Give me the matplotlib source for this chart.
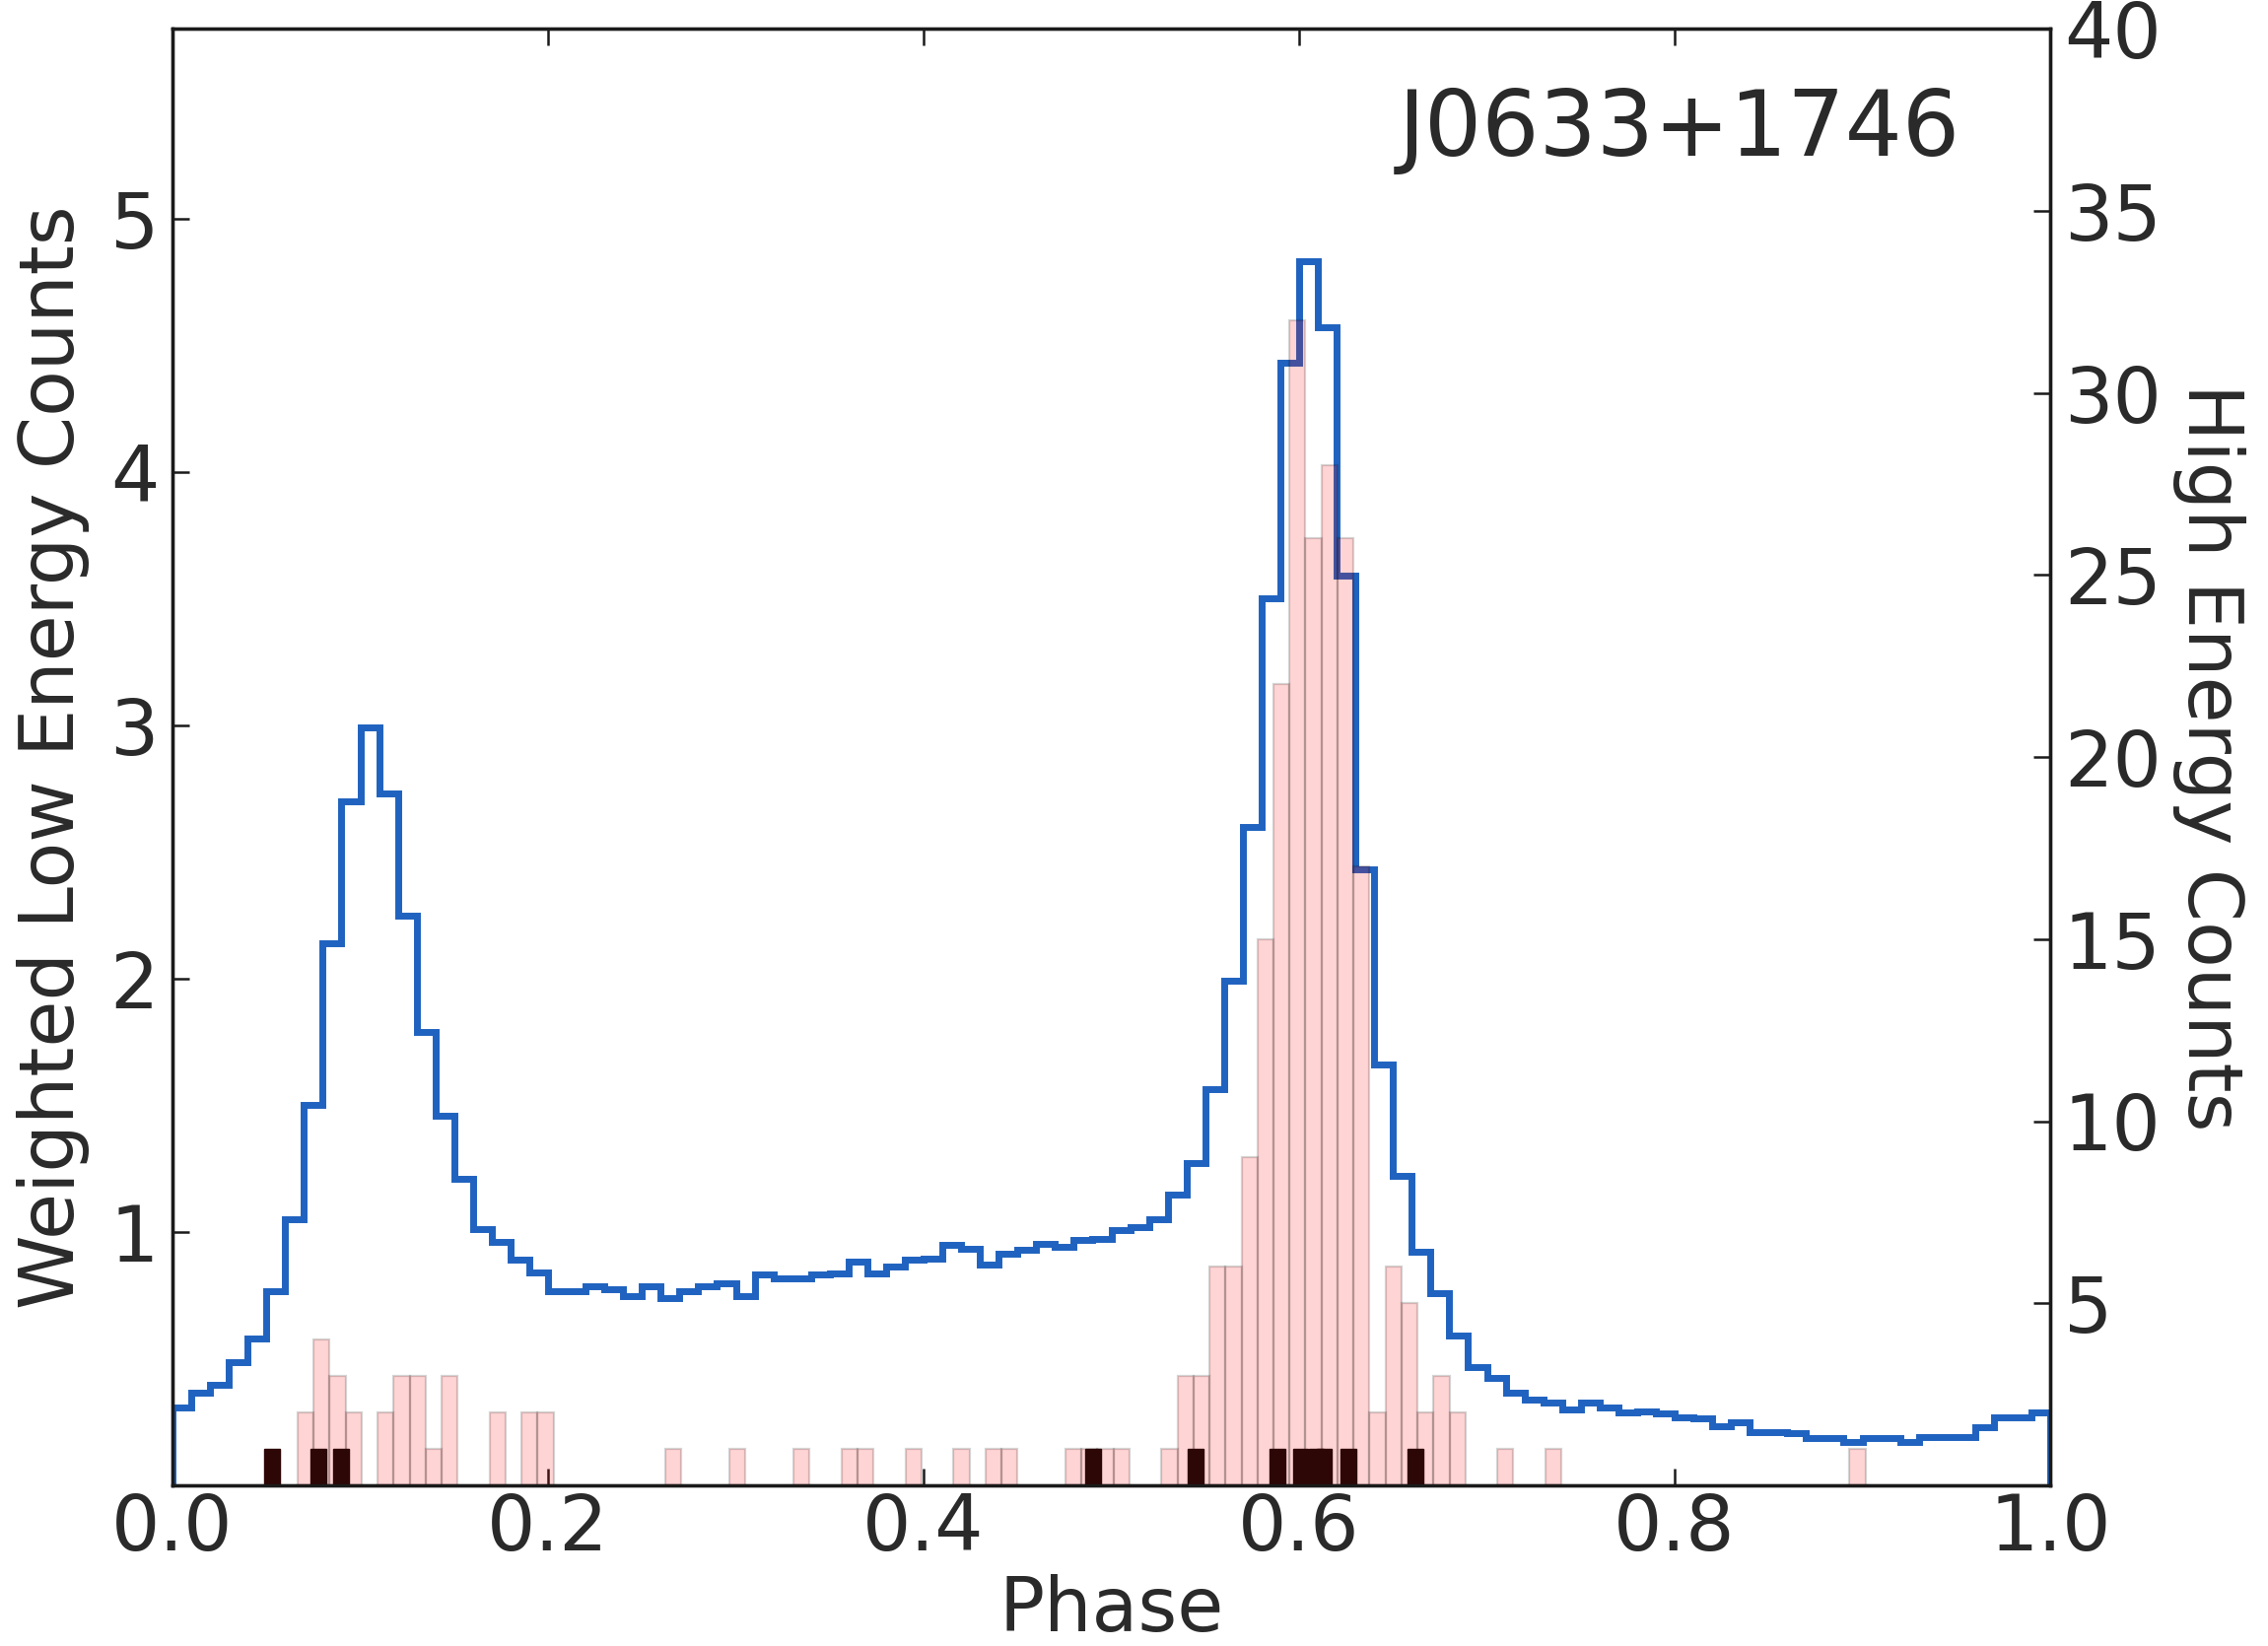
import numpy as np
import matplotlib
matplotlib.use("Agg")
import matplotlib.pyplot as plt

# Weighted low energy light curve, 100 phase bins of 0.01
low_counts = [0.306, 0.365, 0.397, 0.488, 0.578, 0.766, 1.052, 1.50, 2.14, 2.70,
              2.99, 2.73, 2.25, 1.79, 1.46, 1.21, 1.01, 0.96, 0.89, 0.84,
              0.767, 0.767, 0.786, 0.775, 0.747, 0.786, 0.741, 0.767, 0.786, 0.799,
              0.747, 0.831, 0.818, 0.818, 0.831, 0.838, 0.883, 0.838, 0.864, 0.890,
              0.896, 0.948, 0.935, 0.870, 0.916, 0.930, 0.955, 0.942, 0.968, 0.974,
              1.007, 1.019, 1.052, 1.149, 1.272, 1.564, 1.99, 2.60, 3.50, 4.43,
              4.83, 4.57, 3.59, 2.43, 1.66, 1.22, 0.922, 0.76, 0.591, 0.468,
              0.423, 0.365, 0.339, 0.326, 0.300, 0.326, 0.306, 0.287, 0.290, 0.285,
              0.267, 0.265, 0.235, 0.248, 0.209, 0.210, 0.205, 0.186, 0.186, 0.170,
              0.186, 0.185, 0.173, 0.190, 0.190, 0.190, 0.228, 0.267, 0.267, 0.289]

# High energy counts: non-empty bins of the finer histogram
hi_bin = [7, 8, 9, 10, 12, 13, 14, 15, 16, 19, 21, 22,
          30, 34, 38, 41, 42, 45, 48, 50, 51, 55, 56, 57, 58,
          61, 62, 63, 64, 65, 66, 67, 68, 69, 70, 71, 72, 73,
          74, 75, 76, 77, 78, 79, 82, 85, 104]
hi_count = [2, 4, 3, 2, 2, 3, 3, 1, 3, 2, 2, 2,
            1, 1, 1, 1, 1, 1, 1, 1, 1, 1, 1, 1, 1,
            1, 3, 3, 6, 6, 9, 15, 22, 32, 26, 28, 26, 17,
            2, 6, 5, 2, 3, 2, 1, 1, 1]

# highest energy photons (phase of each)
vhe_phase = [0.049, 0.0735, 0.0857, 0.4863, 0.5407, 0.5844,
             0.5967, 0.6050, 0.6092, 0.622, 0.658]

HI_X0 = 0.007
HI_W = 0.00852
TXT = "#2a2a2a"

fig = plt.figure(figsize=(23.01, 16.70), dpi=100)
ax = fig.add_axes([175 / 2301, 163 / 1670, 1905 / 2301, 1478 / 1670])
ax2 = ax.twinx()

edges = np.linspace(0, 1, len(low_counts) + 1)
ax.stairs(low_counts, edges, baseline=0, fill=False, color="#1f62bf", lw=5)

hi_left = HI_X0 + HI_W * np.array(hi_bin)
ax2.bar(hi_left, hi_count, width=HI_W, align="edge", color="red", alpha=0.17,
        edgecolor="k", linewidth=1.6)
ax2.bar(vhe_phase, [1] * len(vhe_phase), width=0.0082, align="edge",
        color="#2d0606", edgecolor="#2d0606", linewidth=1)

ax.set_xlim(0, 1)
ax.set_ylim(0, 5.75)
ax2.set_ylim(0, 40)
ax.set_xticks([0.0, 0.2, 0.4, 0.6, 0.8, 1.0])
ax.set_xticklabels(["0.0", "0.2", "0.4", "0.6", "0.8", "1.0"])
ax.set_yticks([1, 2, 3, 4, 5])
ax2.set_yticks([5, 10, 15, 20, 25, 30, 35, 40])

ax.tick_params(axis="x", direction="in", length=12, width=1.8, labelsize=56,
               pad=4, top=True, colors="#1a1a1a", labelcolor=TXT)
ax.tick_params(axis="y", direction="in", length=12, width=1.8, labelsize=56,
               pad=10, colors="#1a1a1a", labelcolor=TXT)
ax2.tick_params(axis="y", direction="in", length=12, width=1.8, labelsize=56,
                pad=10, colors="#1a1a1a", labelcolor=TXT)
for a in (ax, ax2):
    for s in a.spines.values():
        s.set_linewidth(2.4)
        s.set_color("#1a1a1a")

fig.text(54 / 2301, 1 - 768 / 1670, "Weighted Low Energy Counts", rotation=90,
         ha="center", va="center", fontsize=55, color=TXT)
fig.text(2241 / 2301, 1 - 768 / 1670, "High Energy Counts", rotation=270,
         ha="center", va="center", fontsize=55, color=TXT)
fig.text(1128 / 2301, 1 - 1655 / 1670, "Phase", ha="center", va="baseline",
         fontsize=55, color=TXT)
ax.text(0.952, 0.9127, "J0633+1746", transform=ax.transAxes, ha="right",
        va="baseline", fontsize=66, color=TXT)

fig.savefig("out.png", dpi=100)
